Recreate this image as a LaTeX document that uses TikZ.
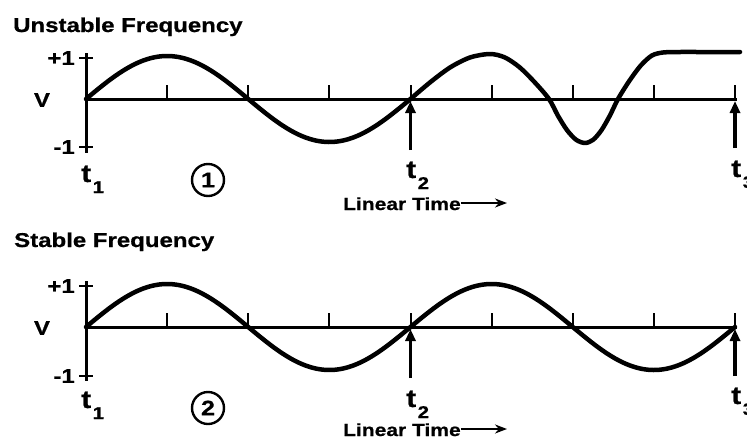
\documentclass[tikz,border=0pt]{standalone}
\usepackage{fontspec}
\setmainfont{Liberation Sans}[FakeStretch=1.2, BoldFeatures={FakeBold=0.8}]
\usetikzlibrary{arrows.meta}
\newcommand\tsubx[1]{t\hspace{1.5pt}\raisebox{-11pt}{\fontsize{17}{17}\selectfont #1}}
\begin{document}
\begin{tikzpicture}[x=1pt,y=-1pt,
  ttl/.style={font=\fontsize{20}{22}\selectfont\bfseries, anchor=base west, inner sep=0},
  lbl/.style={font=\fontsize{20}{22}\selectfont\bfseries, inner sep=0},
  tlbl/.style={font=\fontsize{25}{25}\selectfont\bfseries, anchor=base west, inner sep=0},
  lt/.style={font=\fontsize{17.5}{19}\selectfont\bfseries, anchor=base west, inner sep=0},
  circnum/.style={circle, draw, line width=2.4pt, minimum size=32pt, inner sep=0, font=\fontsize{21}{21}\selectfont\bfseries},
  wave/.style={line width=4.5pt, line join=round, line cap=round},
  axisline/.style={line width=3pt},
  tickmark/.style={line width=2pt},
  tarrow/.style={line width=3.5pt, -{Triangle[length=12pt,width=10pt]}},
  ltarrow/.style={line width=2.5pt, -{Stealth[length=12pt,width=9pt]}}]
\useasboundingbox (0,0) rectangle (747,440);
\fill[white] (0,0) rectangle (747,440);

% ================= Top: unstable =================
\node[ttl] (title1) at (13,32) {Unstable Frequency};
\coordinate (o1) at (86,99);
\coordinate (e1) at (737,99);
\coordinate (vt1) at (86,53);
\coordinate (vb1) at (86,153);
\draw[axisline] (o1) -- (e1);
\draw[axisline] (vt1) -- (vb1);
\draw[tickmark] (79,58) -- (93,58);
\draw[tickmark] (79,147) -- (93,147);
\foreach \k in {1,...,8} {
  \draw[tickmark] ({86+81.125*\k},99) -- ({86+81.125*\k},85);
}
\node[lbl, anchor=east] (p1a) at (75,58) {+1};
\node[lbl] (v1) at (42,100) {V};
\node[lbl, anchor=east] (m1a) at (75,147) {-1};

\draw[wave] plot[domain=86:410.5, samples=120] (\x, {99-43*sin((\x-86)/324.5*360)});
\draw[wave] plot[smooth, tension=0.5] coordinates {
  (410.5,99) (430.75,81.8) (450.5,67.2) (470.25,57.4) (490,54)
  (504.75,57.4) (519.5,67.2) (534.25,81.8) (549,99)
  (558,115.8) (567,130.1) (576,139.7) (585,143)
  (593.25,139.7) (601.5,130.1) (609.75,115.8) (618,99)
  (629.25,81) (640.5,65.8) (651.75,55.6) (663,52.5)
  (680,52) (700,52) (740,52)};

\coordinate (a2s) at (410.5,150);
\coordinate (a2e) at (410.5,101);
\draw[tarrow] (a2s) -- (a2e);
\coordinate (a3s) at (735,148);
\coordinate (a3e) at (735,101);
\draw[tarrow] (a3s) -- (a3e);

\node[tlbl] (t11) at (81,182) {\tsubx{1}};
\node[circnum] (c1) at (208,180) {1};
\node[tlbl] (t21) at (406,178) {\tsubx{2}};
\node[tlbl] (t31) at (731,177) {\tsubx{3}};
\node[lt] (lt1) at (343,210) {Linear Time};
\coordinate (la1) at (507,203);
\draw[ltarrow] (lt1.east |- la1) -- (la1);

% ================= Bottom: stable =================
\node[ttl] (title2) at (14,247) {Stable Frequency};
\coordinate (o2) at (86,327);
\coordinate (e2) at (737,327);
\coordinate (vt2) at (86,281);
\coordinate (vb2) at (86,381);
\draw[axisline] (o2) -- (e2);
\draw[axisline] (vt2) -- (vb2);
\draw[tickmark] (79,286) -- (93,286);
\draw[tickmark] (79,376) -- (93,376);
\foreach \k in {1,...,8} {
  \draw[tickmark] ({86+81.125*\k},327) -- ({86+81.125*\k},313);
}
\node[lbl, anchor=east] (p1b) at (75,286) {+1};
\node[lbl] (v2) at (42,328) {V};
\node[lbl, anchor=east] (m1b) at (75,376) {-1};

\draw[wave] plot[domain=86:735, samples=240] (\x, {327-43*sin((\x-86)/324.5*360)});

\coordinate (b2s) at (410.5,378);
\coordinate (b2e) at (410.5,329);
\draw[tarrow] (b2s) -- (b2e);
\coordinate (b3s) at (735,376);
\coordinate (b3e) at (735,329);
\draw[tarrow] (b3s) -- (b3e);

\node[tlbl] (t12) at (81,408) {\tsubx{1}};
\node[circnum] (c2) at (208,408) {2};
\node[tlbl] (t22) at (406,407) {\tsubx{2}};
\node[tlbl] (t32) at (731,404) {\tsubx{3}};
\node[lt] (lt2) at (343,436) {Linear Time};
\coordinate (la2) at (507,429);
\draw[ltarrow] (lt2.east |- la2) -- (la2);
\end{tikzpicture}
\end{document}
